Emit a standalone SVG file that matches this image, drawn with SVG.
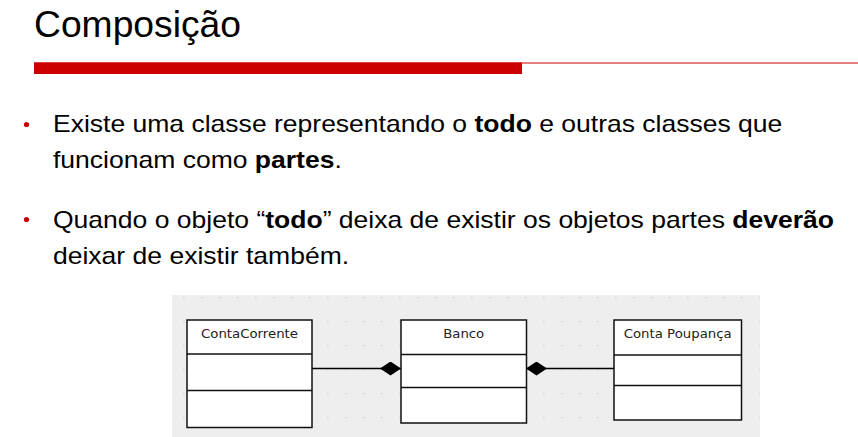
<svg xmlns="http://www.w3.org/2000/svg" width="858" height="437" viewBox="0 0 858 437">
<defs>
<style>
.body{font-family:"Liberation Sans",Arial,sans-serif;font-size:24px;fill:#000}
.b{font-weight:bold}
.bul{fill:#cc0000}
.box{fill:#fff;stroke:#111;stroke-width:1.5}
.div{stroke:#111;stroke-width:1.5}
.lbl{font-family:"DejaVu Sans",sans-serif;font-size:13px;fill:#222;text-anchor:middle}
.conn{stroke:#000;stroke-width:1.5;fill:none}
</style>
<pattern id="dots" x="3.3" y="9" width="18" height="24" patternUnits="userSpaceOnUse">
<rect x="0" y="0" width="1.2" height="1.2" fill="#c4c4c4"/>
</pattern>
<marker id="diamond" viewBox="0 0 21 14" refX="21" refY="7" markerWidth="21" markerHeight="14" markerUnits="userSpaceOnUse" orient="auto">
<path d="M0,7 L10.5,0 L21,7 L10.5,14 Z" fill="#000"/>
</marker>
</defs>
<rect width="858" height="437" fill="#fff"/>
<text x="34" y="37" font-family="Liberation Sans, Arial, sans-serif" font-size="37" fill="#000" textLength="207" lengthAdjust="spacingAndGlyphs">Composição</text>
<line x1="34" y1="63" x2="858" y2="63" stroke="#cc0000" stroke-width="1"/>
<rect x="34" y="62.5" width="488" height="11.5" fill="#cc0000"/>
<circle class="bul" cx="26.5" cy="124.5" r="2.6"/>
<circle class="bul" cx="26.5" cy="219.5" r="2.6"/>
<g transform="matrix(1.105 0 0 1 -5.565 0)">
<text class="body" x="53" y="132">Existe uma classe representando o <tspan class="b">todo</tspan> e outras classes que</text>
<text class="body" x="53" y="168">funcionam como <tspan class="b">partes</tspan>.</text>
<text class="body" x="53" y="228">Quando o objeto “<tspan class="b">todo</tspan>” deixa de existir os objetos partes <tspan class="b">deverão</tspan></text>
<text class="body" x="53" y="264">deixar de existir também.</text>
</g>
<rect x="172" y="295" width="588" height="142" fill="#eeeeee"/>
<rect x="172" y="295" width="588" height="142" fill="url(#dots)"/>
<g id="connectors">
<line class="conn" x1="312" y1="368.5" x2="401" y2="368.5" marker-end="url(#diamond)"/>
<line class="conn" x1="614" y1="368.5" x2="526" y2="368.5" marker-end="url(#diamond)"/>
</g>
<g id="ContaCorrente">
<rect class="box" x="187" y="320" width="125" height="107.5"/>
<line class="div" x1="187" y1="354" x2="312" y2="354"/>
<line class="div" x1="187" y1="390.5" x2="312" y2="390.5"/>
<text class="lbl" x="249.5" y="338" textLength="97" lengthAdjust="spacingAndGlyphs">ContaCorrente</text>
</g>
<g id="Banco">
<rect class="box" x="401" y="320" width="125.5" height="103"/>
<line class="div" x1="401" y1="354.5" x2="526.5" y2="354.5"/>
<line class="div" x1="401" y1="387.5" x2="526.5" y2="387.5"/>
<text class="lbl" x="463.7" y="338" textLength="41" lengthAdjust="spacingAndGlyphs">Banco</text>
</g>
<g id="ContaPoupanca">
<rect class="box" x="614" y="320" width="127.5" height="100"/>
<line class="div" x1="614" y1="355" x2="741.5" y2="355"/>
<line class="div" x1="614" y1="385.5" x2="741.5" y2="385.5"/>
<text class="lbl" x="677.7" y="338" textLength="108" lengthAdjust="spacingAndGlyphs">Conta Poupança</text>
</g>
</svg>
